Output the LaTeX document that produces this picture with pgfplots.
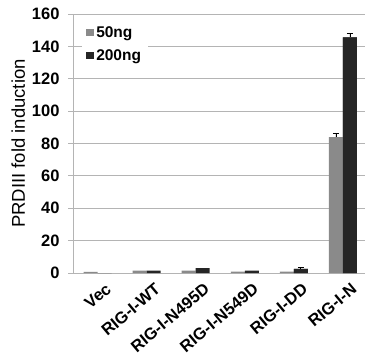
\documentclass[border=0pt]{standalone}
\usepackage{fontspec}
\setmainfont{Liberation Sans}
\usepackage{pgfplots}
\pgfplotsset{compat=1.18}
\usepackage{pgfplotstable}
\definecolor{lowc}{HTML}{8A8A8A}
\definecolor{highc}{HTML}{262626}
\definecolor{gridc}{HTML}{B4B4B4}
\pgfplotstableread{
x y err
0 0.7 0
1 1.5 0
2 1.5 0
3 0.8 0
4 0.8 0
5 84.0 2.5
}\lowtab
\pgfplotstableread{
x y err
0 0.0 0
1 1.5 0
2 3.0 0
3 1.5 0
4 2.5 1.2
5 145.5 2.5
}\hightab
\pgfplotstableread{
x y err
5 84.0 2.5
}\lowerr
\pgfplotstableread{
x y err
4 2.5 1.2
5 145.5 2.5
}\higherr
\begin{document}
\begin{tikzpicture}
\begin{axis}[
  scale only axis, width=292pt, height=259pt,
  xmin=-0.5, xmax=5.45, ymin=0, ymax=160,
  ytick={0,20,...,160},
  xtick={0,...,5},
  xticklabels={Vec,RIG-I-WT,RIG-I-N495D,RIG-I-N549D,RIG-I-DD,RIG-I-N},
  axis x line*=bottom, axis y line*=left,
  axis line style={draw=gridc, line width=0.8pt, -},
  ymajorgrids, grid style={draw=gridc, line width=0.8pt},
  tick align=outside, major tick length=5pt,
  y tick style={draw=gridc, line width=0.8pt},
  x tick style={draw=none},
  yticklabel style={font=\fontsize{16.5}{20}\selectfont\bfseries, xshift=-5pt},
  /pgf/number format/assume math mode=true,
  xticklabel style={font=\fontsize{16.5}{19}\selectfont\bfseries, rotate=40, anchor=north east, inner sep=1pt, xshift=4pt, yshift=-7pt},
  ylabel={PRDIII fold induction},
  ylabel style={font=\fontsize{18.5}{20}\selectfont},
  ybar, bar width=14pt,
  legend style={at={(0.031,0.965)}, anchor=north west, draw=none, fill=white,
    font=\fontsize{15.5}{18}\selectfont\bfseries, row sep=11pt, inner xsep=4pt, inner ysep=3pt,
    /tikz/every even column/.style={column sep=0pt},
    nodes={inner xsep=2.5pt, inner ysep=0pt}},
  legend image code/.code={\fill[#1] (0pt,-3.6pt) rectangle (7.5pt,3.6pt);},
  legend cell align=left,
]
\addplot[fill=lowc, draw=none, bar shift=-7pt] table[x=x, y=y]{\lowtab};
\addplot[fill=highc, draw=none, bar shift=7pt] table[x=x, y=y]{\hightab};
\addplot[fill=lowc, draw=none, bar shift=-7pt, forget plot, error bars/.cd, y dir=plus, y explicit, error bar style={black, line width=0.8pt}, error mark options={rotate=90, mark size=3pt, line width=0.8pt}] table[x=x, y=y, y error=err]{\lowerr};
\addplot[fill=highc, draw=none, bar shift=7pt, forget plot, error bars/.cd, y dir=plus, y explicit, error bar style={black, line width=0.8pt}, error mark options={rotate=90, mark size=3pt, line width=0.8pt}] table[x=x, y=y, y error=err]{\higherr};
\legend{50ng,200ng}
\coordinate (ll) at (rel axis cs:0,0);
\coordinate (ur) at (rel axis cs:1,1);
\end{axis}
\pgfresetboundingbox
\path[use as bounding box] ([xshift=-73pt,yshift=-85pt]ll) rectangle ([yshift=14pt]ur);
\end{tikzpicture}
\end{document}
